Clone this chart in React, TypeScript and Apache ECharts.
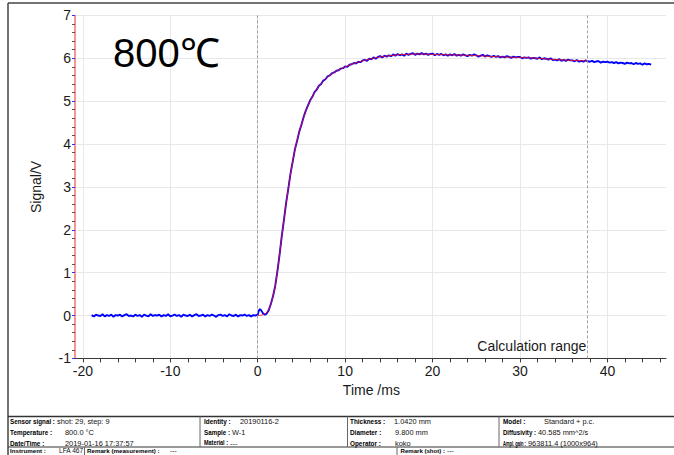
import React, { useEffect, useRef } from 'react';
import * as echarts from 'echarts';

// ---------- texts ----------
const TITLE = '800℃';
const X_AXIS_NAME = 'Time /ms';
const Y_AXIS_NAME = 'Signal/V';
const CALC_LABEL = 'Calculation range';

// ---------- axes ----------
const X_EXTENT = [-20.9, 46.7];
const X_TICK_RANGE = [-20, 46];
const X_MINOR_STEP = 2;
const Y_MIN = -1;
const Y_MAX = 7;
const PULSE_TIME = 0;
const CALC_RANGE_END = 37.7;
const CALC_LABEL_V = -0.7;

// ---------- measured signal (blue) ----------
const baselineStart = -19;
const baselineStep = 0.25;
const blueBaseline = [
  0.01, -0.02, 0.02, 0.0, -0.01, 0.03, -0.02, 0.01, -0.01, 0.02,
  -0.03, 0.01, 0.0, 0.02, -0.02, 0.01, 0.03, -0.01, 0.0, -0.02,
  0.02, -0.01, 0.01, -0.03, 0.02, 0.0, -0.02, 0.03, -0.01, 0.01,
  0.0, 0.02, -0.02, 0.01, -0.01, 0.03, -0.02, 0.0, 0.02, -0.01,
  0.01, -0.03, 0.02, 0.0, -0.01, 0.02, -0.02, 0.01, 0.03, -0.01,
  0.0, 0.02, -0.02, 0.01, -0.01, 0.02, 0.0, -0.03, 0.01, 0.02,
  -0.01, 0.01, -0.02, 0.03, 0.0, -0.01, 0.02, -0.02, 0.01, 0.0,
  0.02, -0.01, 0.01, -0.02, 0.01, 0.0,
];
const blueRise: [number, number][] = [
  [0, 0.02], [0.1, 0.1], [0.25, 0.15], [0.4, 0.12], [0.6, 0.05], [0.8, 0.02],
  [1.0, 0.04], [1.25, 0.12], [1.5, 0.27], [1.75, 0.45], [2.0, 0.69], [2.25, 1.03],
  [2.5, 1.42], [2.75, 1.85], [3.0, 2.23], [3.25, 2.63], [3.5, 2.96], [3.75, 3.31],
  [4.0, 3.59], [4.25, 3.87], [4.5, 4.07], [4.75, 4.29], [5.0, 4.45], [5.25, 4.63],
  [5.5, 4.78], [5.75, 4.9], [6.0, 5.02], [6.25, 5.1], [6.5, 5.21], [6.75, 5.27],
  [7.0, 5.36], [7.25, 5.4], [7.5, 5.48], [7.75, 5.51], [8.0, 5.58], [8.25, 5.6],
  [8.5, 5.65], [8.75, 5.67], [9.0, 5.71], [9.25, 5.72], [9.5, 5.76], [9.75, 5.77],
  [10.0, 5.81], [10.25, 5.8], [10.5, 5.85], [10.75, 5.86], [11.0, 5.89], [11.25, 5.88],
  [11.5, 5.92], [11.75, 5.91], [12.0, 5.95],
];
const plateauStart = 12.25;
const plateauStep = 0.25;
const bluePlateau = [
  5.96, 5.94, 5.99,
  5.98, 6.02, 5.99, 6.03,
  6.05, 6.02, 6.06, 6.04,
  6.07, 6.05, 6.09, 6.06,
  6.1, 6.07, 6.09, 6.06,
  6.11, 6.08, 6.1, 6.12,
  6.08, 6.11, 6.09, 6.12,
  6.09, 6.11, 6.08, 6.1,
  6.11, 6.07, 6.1, 6.08,
  6.1, 6.07, 6.09, 6.06,
  6.09, 6.07, 6.1, 6.06,
  6.08, 6.06, 6.09, 6.07,
  6.05, 6.08, 6.06, 6.09,
  6.07, 6.04, 6.06, 6.08,
  6.04, 6.07, 6.05, 6.03,
  6.06, 6.03, 6.05, 6.02,
  6.04, 6.02, 6.05, 6.03,
  6.01, 6.04, 6.02, 6.03,
  6.03, 6.0, 6.02, 6.01,
  6.02, 5.99, 6.01, 6.0,
  5.99, 6.02, 5.98, 6.0,
  5.99, 5.97, 6.0, 5.96,
  5.97, 5.95, 5.98, 5.94,
  5.96, 5.94, 5.97, 5.95,
  5.95, 5.93, 5.96, 5.92,
  5.94, 5.92, 5.95, 5.93,
  5.92, 5.94, 5.91, 5.93,
  5.93, 5.9, 5.92, 5.91,
  5.92, 5.9, 5.91, 5.89,
  5.91, 5.88, 5.9, 5.89,
  5.87, 5.9, 5.88, 5.89,
  5.86, 5.89, 5.87, 5.88,
  5.85, 5.88, 5.86, 5.87,
  5.85,
];

// ---------- fitted model (red) ----------
const redFit: [number, number][] = [
  [0, 0], [0.5, 0.01], [1, 0.06], [1.25, 0.13], [1.5, 0.26], [1.75, 0.44], [2, 0.68],
  [2.25, 1.02], [2.5, 1.43], [2.75, 1.84], [3, 2.24], [3.25, 2.62], [3.5, 2.97],
  [3.75, 3.3], [4, 3.6], [4.25, 3.86], [4.5, 4.08], [4.75, 4.28], [5, 4.46],
  [5.5, 4.77], [6, 5.01], [6.5, 5.2], [7, 5.35], [7.5, 5.47], [8, 5.57], [8.5, 5.64],
  [9, 5.7], [9.5, 5.75], [10, 5.8], [11, 5.88], [12, 5.94], [13, 5.99], [14, 6.03],
  [15, 6.06], [16, 6.08], [17, 6.09], [18, 6.1], [19, 6.1], [20, 6.09], [22, 6.08],
  [24, 6.07], [26, 6.05], [28, 6.03], [30, 6.02], [32, 6.0], [34, 5.97], [36, 5.95],
  [37.7, 5.94],
];

// ---------- info table ----------
const infoRows: [string, string][][] = [
  [['Sensor signal :', 'shot: 29, step: 9'], ['Identity :', '20190116-2'], ['Thickness :', '1.0420 mm'], ['Model :', 'Standard + p.c.']],
  [['Temperature :', '800.0 °C'], ['Sample :', 'W-1'], ['Diameter :', '9.800 mm'], ['Diffusivity :', '40.585 mm^2/s']],
  [['Date/Time :', '2019-01-16 17:37:57'], ['Material :', '---'], ['Operator :', 'koko'], ['Ampl. gain :', '963811.4 (1000x964)']],
];
const infoBottom: [string, string][] = [
  ['Instrument :', 'LFA 467'], ['Remark (measurement) :', '---'], ['Remark (shot) :', '---'],
];

// ---------- layout ----------
const W = 674;
const H = 455;
const PLOT_LEFT = 75;
const PLOT_TOP = 15.4;
const PLOT_W = 591;
const PLOT_H = 343;
const FONT = 'Arial, "Liberation Sans", sans-serif';
const LABEL_SIZE = 6.4;
const VALUE_SIZE = 7.4;
const BOTTOM_LABEL_SIZE = 6.2;
const BOTTOM_VALUE_SIZE = 6.6;
const LABEL_X = [10, 204, 350, 503];
const VALUE_X = [[57, 240, 394, 544], [65, 232, 395, 538], [65, 230, 395, 528]];
const ROW_Y = [421.7, 432.3, 443.2];
const BOTTOM_LABEL_X = [10, 87, 400.5];
const BOTTOM_VALUE_X = [59, 170, 447];
const BOTTOM_Y = 450.9;

function buildBlue(): [number, number][] {
  const out: [number, number][] = [];
  blueBaseline.forEach((v, i) => out.push([baselineStart + i * baselineStep, v]));
  blueRise.forEach((p) => out.push(p));
  bluePlateau.forEach((v, i) => out.push([plateauStart + i * plateauStep, v]));
  return out;
}

let measureCtx: CanvasRenderingContext2D | null = null;
function textWidth(t: string, font: string): number {
  if (!measureCtx) measureCtx = document.createElement('canvas').getContext('2d');
  if (!measureCtx) return t.length * 4;
  measureCtx.font = font;
  return measureCtx.measureText(t).width;
}

function tableGraphics(): any[] {
  const g: any[] = [];
  const line = (x1: number, y1: number, x2: number, y2: number, stroke: string, lw: number) => ({
    type: 'line', silent: true, z: 10,
    shape: { x1, y1, x2, y2 },
    style: { stroke, lineWidth: lw },
  });
  const label = (x: number, y: number, t: string, avail: number, size: number) => {
    const w = textWidth(t, `bold ${size}px ${FONT}`);
    const sx = Math.min(1, (avail - 2) / Math.max(w, 1));
    return {
      type: 'text', silent: true, z: 10, x, y, scaleX: sx, scaleY: 1,
      style: {
        text: t, fill: '#000', fontSize: size, fontWeight: 'bold',
        fontFamily: FONT, align: 'left', verticalAlign: 'middle',
      },
    };
  };
  const value = (x: number, y: number, t: string, size: number) => ({
    type: 'text', silent: true, z: 10, x, y,
    style: {
      text: t, fill: '#111', fontSize: size, fontWeight: 'normal',
      fontFamily: FONT, align: 'left', verticalAlign: 'middle',
    },
  });
  // outer frame
  g.push(line(8, 3, W, 3, '#444', 1.5));
  g.push(line(8, 3, 8, H, '#444', 1.5));
  // table lines
  g.push(line(8, 416.5, W, 416.5, '#333', 1.5));
  g.push(line(8, 447, W, 447, '#333', 1));
  [200, 347.5, 499].forEach((x) => g.push(line(x, 416.5, x, 447, '#666', 1)));
  [84.5, 397].forEach((x) => g.push(line(x, 447, x, H, '#666', 1)));
  infoRows.forEach((row, r) => {
    row.forEach(([lab, val], c) => {
      g.push(label(LABEL_X[c], ROW_Y[r], lab, VALUE_X[r][c] - LABEL_X[c], LABEL_SIZE));
      g.push(value(VALUE_X[r][c], ROW_Y[r], val, VALUE_SIZE));
    });
  });
  infoBottom.forEach(([lab, val], c) => {
    g.push(label(BOTTOM_LABEL_X[c], BOTTOM_Y, lab, BOTTOM_VALUE_X[c] - BOTTOM_LABEL_X[c], BOTTOM_LABEL_SIZE));
    g.push(value(BOTTOM_VALUE_X[c], BOTTOM_Y, val, BOTTOM_VALUE_SIZE));
  });
  return g;
}

export default function App() {
  const ref = useRef<HTMLDivElement>(null);
  useEffect(() => {
    if (!ref.current) return;
    const chart = echarts.init(ref.current, null, { renderer: 'svg', width: W, height: H });
    const span = X_EXTENT[1] - X_EXTENT[0];
    const g1Left = PLOT_LEFT + ((X_TICK_RANGE[0] - X_EXTENT[0]) / span) * PLOT_W;
    const g1Width = ((X_TICK_RANGE[1] - X_TICK_RANGE[0]) / span) * PLOT_W;
    const clear = 'rgba(0,0,0,0)';
    const option: any = {
      animation: false,
      backgroundColor: '#fff',
      textStyle: { fontFamily: FONT },
      grid: [
        { left: PLOT_LEFT, top: PLOT_TOP, width: PLOT_W, height: PLOT_H },
        { left: g1Left, top: PLOT_TOP, width: g1Width, height: PLOT_H },
      ],
      xAxis: [
        {
          gridIndex: 0, type: 'value', min: X_EXTENT[0], max: X_EXTENT[1],
          axisLine: { show: true, onZero: false, lineStyle: { color: '#3a3a3a', width: 1 } },
          axisTick: { show: false }, axisLabel: { show: false }, splitLine: { show: false },
        },
        {
          gridIndex: 1, type: 'value', min: X_TICK_RANGE[0], max: X_TICK_RANGE[1], interval: X_MINOR_STEP,
          axisLine: { show: false, onZero: false },
          axisTick: { show: true, length: 4, lineStyle: { color: '#3a3a3a', width: 1 } },
          axisLabel: {
            fontSize: 14, color: '#1a1a1a', margin: 6, fontFamily: FONT,
            formatter: (v: number) => (Math.round(v) % 10 === 0 ? String(Math.round(v)) : ''),
          },
          splitLine: { show: true, lineStyle: { color: ['#e8e8e8', clear, clear, clear, clear], width: 1 } },
          name: X_AXIS_NAME, nameLocation: 'middle', nameGap: 23,
          nameTextStyle: { fontSize: 14, color: '#1a1a1a', fontFamily: FONT },
        },
      ],
      yAxis: [
        {
          gridIndex: 0, type: 'value', min: Y_MIN, max: Y_MAX, interval: 1,
          axisLine: { show: true, onZero: false, lineStyle: { color: '#f07070', width: 1.5 } },
          axisTick: { show: true, length: 3, lineStyle: { color: '#3030ff', width: 1 } },
          minorTick: { show: true, splitNumber: 5, length: 3, lineStyle: { color: '#555', width: 1 } },
          axisLabel: { fontSize: 14, color: '#1a1a1a', margin: 4, fontFamily: FONT },
          splitLine: { show: true, lineStyle: { color: '#e8e8e8', width: 1 } },
          name: Y_AXIS_NAME, nameLocation: 'middle', nameGap: 32, nameRotate: 90,
          nameTextStyle: { fontSize: 14, color: '#1a1a1a', fontFamily: FONT },
        },
        { gridIndex: 1, type: 'value', min: Y_MIN, max: Y_MAX, show: false },
      ],
      series: [
        {
          type: 'line', xAxisIndex: 0, yAxisIndex: 0, data: buildBlue(),
          showSymbol: false, symbol: 'none', z: 2,
          lineStyle: { color: '#0000ff', width: 1.9 },
          markLine: {
            silent: true, symbol: ['none', 'none'], label: { show: false },
            lineStyle: { color: '#a0a0a0', type: [3, 2], width: 1 },
            data: [{ xAxis: PULSE_TIME }, { xAxis: CALC_RANGE_END }],
          },
        },
        {
          type: 'line', xAxisIndex: 0, yAxisIndex: 0, data: redFit,
          showSymbol: false, symbol: 'none', z: 3,
          lineStyle: { color: '#ff1010', width: 1, opacity: 0.8 },
        },
      ],
    };
    chart.setOption(option);
    const p = chart.convertToPixel({ gridIndex: 0 } as any, [CALC_RANGE_END, CALC_LABEL_V]) as number[];
    const graphics: any[] = [
      {
        type: 'text', silent: true, z: 10, x: 113, y: 53,
        style: { text: TITLE, fill: '#000', fontSize: 40, fontFamily: '"Liberation Sans", Arial, sans-serif', align: 'left', verticalAlign: 'middle' },
      },
      {
        type: 'text', silent: true, z: 10, x: p[0] - 1, y: p[1],
        style: { text: CALC_LABEL, fill: '#1a1a1a', fontSize: 14, fontFamily: FONT, align: 'right', verticalAlign: 'middle' },
      },
      ...tableGraphics(),
    ];
    chart.setOption({ graphic: graphics });
    return () => chart.dispose();
  }, []);
  return <div ref={ref} style={{ position: 'fixed', left: 0, top: 0, width: W, height: H }} />;
}
